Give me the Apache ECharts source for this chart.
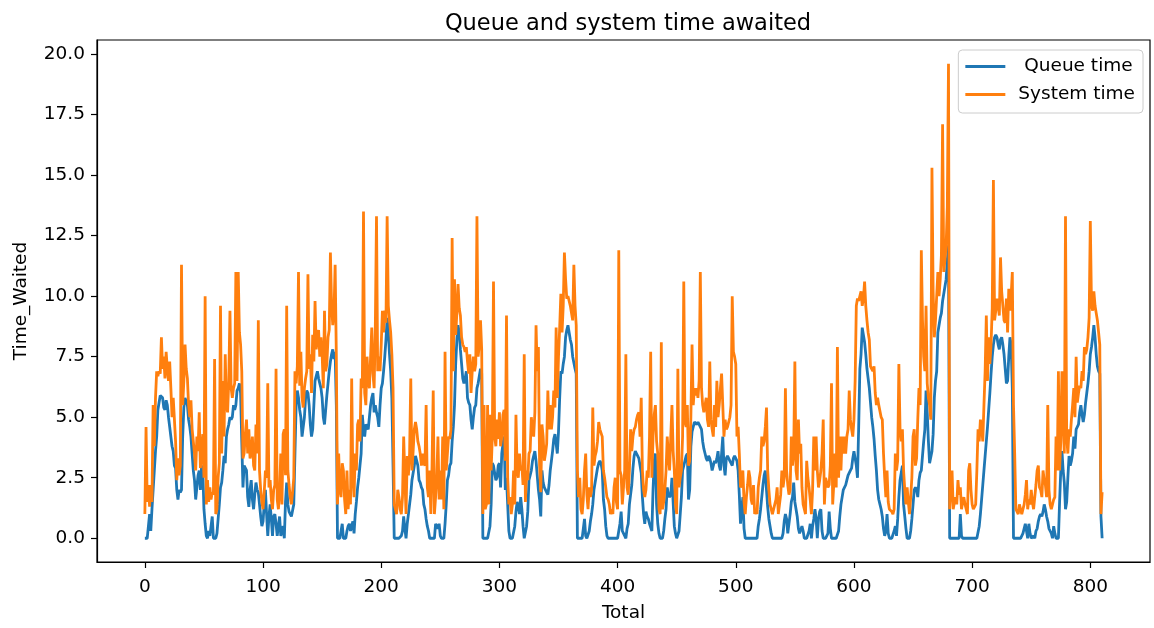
<!DOCTYPE html>
<html>
<head>
<meta charset="utf-8">
<script src="https://cdn.jsdelivr.net/npm/echarts@6/dist/echarts.min.js"></script>
<style>
html,body{margin:0;padding:0;background:#fff;}
#chart{width:1154px;height:628px;}
</style>
</head>
<body>
<div id="chart"></div>
<script>
const titleText = 'Queue and system time awaited';
const seriesNames = [' Queue time', 'System time'];
const xTicks = [0, 100, 200, 300, 400, 500, 600, 700, 800];
const yTicks = [0, 2.5, 5, 7.5, 10, 12.5, 15, 17.5, 20];

const queueTime = [
0,0,0,0,1.0,0.3,1.2,2.0,2.8,3.6,
4.2,5.3,5.6,5.9,5.9,5.8,5.4,5.3,5.7,5.5,
5.0,4.6,4.2,3.8,3.6,3.0,2.9,2.0,1.6,2.0,
1.9,2.0,4.2,5.4,5.8,5.8,5.5,4.9,4.6,4.2,
3.5,2.8,2.4,1.6,2.1,2.6,2.8,2.0,3.0,2.8,
1.2,0.6,0.1,0,0.3,0.1,0.5,0.9,0,0,
0,0.2,0.8,1.4,2.1,2.3,2.8,3.4,3.1,4.2,
4.5,4.7,5.0,4.9,5.0,5.5,5.3,5.5,6.1,6.2,
6.4,6.0,4.0,2.1,3.0,3.0,2.8,1.7,1.3,2.0,
2.4,1.6,1.2,1.8,2.3,2.0,1.9,1.4,0.9,0.5,
0.7,1.4,2.0,1.0,0.1,0.9,1.4,0.8,0.1,0.9,
1.0,0.6,0.1,0.5,0.9,0.1,0.3,0.5,0,1.5,
2.3,1.4,1.1,1.0,0.9,0.9,1.4,3.5,5.5,6.1,
5.8,5.3,5.0,4.2,4.6,5.0,5.8,6.1,6.0,5.5,
4.7,4.2,4.5,5.5,6.5,6.7,6.9,6.6,6.4,6.2,
5.8,5.0,4.7,5.3,5.9,6.4,6.9,7.3,7.6,7.8,
7.4,7.7,5.5,0,0,0,0,0.6,0,0,
0,0.3,0.5,0.6,0.3,0.5,0.7,0.2,1.0,1.5,
2.1,2.5,3.0,3.5,5.1,4.5,4.2,4.7,4.6,4.5,
5.0,5.5,5.8,6.0,5.2,5.5,5.2,5.0,4.6,5.5,
6.2,6.4,6.9,7.5,8.2,9.1,8.5,7.6,6.9,5.8,
3.0,0,0,0,0,0,0,0.1,0.3,0.9,
0.4,0,0.6,1.0,1.4,1.8,2.4,2.7,3.0,3.4,
3.4,3.0,2.4,2.3,2.1,2.0,1.4,1.2,0.8,0.5,
0.3,0,0,0,0,0,0.6,0.5,0.4,0.6,
0.1,0,0,0,0.6,1.4,2.4,2.6,3.0,3.1,
4.0,4.6,5.5,7.2,8.2,8.8,8.5,7.8,7.2,6.6,
6.4,6.6,6.9,5.8,5.6,5.5,4.9,4.5,5.0,5.4,
5.5,6.2,6.4,6.7,7.0,6.8,0,0,0,0,
0,0,0.5,1.4,3.1,3.0,2.7,2.4,2.5,3.0,
3.1,2.1,3.5,3.9,4.2,2.0,2.5,1.4,0.3,0,
0,0,0,0.5,1.1,1.5,1.3,1.0,1.7,1.2,
0.5,0,0,0.5,1.1,2.4,2.6,2.8,3.2,3.4,
3.6,3.2,2.6,2.0,1.6,0.9,2.8,2.3,2.1,2.0,
1.9,1.8,2.2,2.8,3.2,3.6,4.1,4.3,3.9,3.5,
4.4,5.8,6.9,6.8,7.2,7.5,8.3,8.6,8.8,8.5,
8.2,8.0,7.5,7.5,7.0,6.8,0,0,0,0,
0,0.4,0.8,0.1,0,0,0.3,0.7,1.0,1.4,
2.0,2.3,2.6,2.9,3.1,3.2,3.1,2.8,1.6,1.2,
0.5,0.1,0,0,0,0,0,0,0,0,
0,0,0.6,1.1,0.3,0.2,0.1,0,0.4,0.6,
1.4,1.8,2.2,2.9,3.4,3.6,3.5,3.4,3.3,3.0,
2.7,1.7,1.0,0.6,1.1,0.9,0.8,0.6,0.6,0.3,
2.0,3.2,3.5,1.4,0.6,0.2,0,0,0,0.3,
0.8,1.2,2.1,1.8,1.7,1.8,2.5,1.5,0.5,0.2,
0,0,0.3,1.0,1.7,2.8,3.0,3.2,3.4,3.5,
1.6,2.0,3.8,4.4,4.6,4.8,4.8,4.7,4.8,4.7,
4.6,4.5,4.0,3.7,3.5,3.3,3.2,3.4,3.3,3.1,
2.8,3.0,3.2,3.1,3.3,3.6,3.0,2.8,3.5,4.2,
3.0,2.6,3.3,3.4,3.3,3.2,3.1,3.0,3.3,3.4,
3.3,3.2,2.8,1.8,0.6,1.2,1.7,0.4,0,0,
0,0,0,0,0,0,0,0,0,0.5,
0.8,1.2,1.7,2.2,2.6,2.8,2.0,1.3,0.8,0.5,
0.2,0,0,0,0,0,0,0,0,0,
0.2,0.7,1.0,0.8,0.2,0.2,1.0,1.5,1.7,2.3,
1.5,1.2,0.9,0.4,0.2,0.2,0.5,0.3,0,0,
0,0,0.3,0.6,0,0.5,0.8,1.2,0.8,0,
0.8,1.1,1.2,0.3,0,0,0,0,0.2,1.1,
0.4,0,0,0,0,0,0,0.3,0.9,1.4,
1.7,2.0,2.1,2.2,2.4,2.6,2.7,2.8,2.9,3.3,
3.6,3.6,3.0,2.5,4.6,7.0,7.6,8.7,8.4,8.1,
7.6,7.0,6.6,6.2,5.6,5.0,4.6,4.1,3.4,2.8,
2.0,1.6,1.4,1.2,0.9,0.4,0.1,0.3,1.0,0.2,
0,0,0,0,0.3,0.5,0.1,0.8,1.7,2.4,
2.7,3.0,1.4,0.9,0.4,0,0,0,0.3,0.8,
1.4,2.0,2.1,2.0,1.7,2.4,2.7,2.8,3.4,4.0,
4.5,6.1,5.2,4.0,3.1,3.1,3.6,4.3,5.8,6.5,
6.9,8.5,8.8,9.1,9.3,9.8,10.1,10.4,10.7,11.5,
12.1,0,0,0,0,0,0,0,0,0,
1.0,0.1,0,0,0,0,0,0,0,0,
0,0,0,0,0,0,0.5,1.0,1.6,2.2,
2.8,3.4,4.0,4.6,5.3,6.0,6.8,7.5,8.0,8.3,
8.4,8.3,8.0,7.8,8.2,8.3,8.0,7.6,7.0,6.4,
6.5,7.5,8.3,8.0,6.2,0,0,0,0,0,
0,0,0,0.2,0.4,0.6,0.3,0,0.6,0.2,
0,0,0.1,0,0.3,0.4,0.7,0.9,1.0,0.9,
1.1,1.4,1.2,0.9,0.7,0.4,0.3,0.2,0,0.5,
0.2,0,0,0,1.5,2.8,3.6,2.8,2.3,1.2,
1.5,2.5,3.4,3.0,3.2,3.5,4.2,3.7,4.5,4.6,
4.7,5.2,5.5,5.1,4.8,5.1,5.6,6.0,6.4,6.9,
7.6,7.9,8.3,8.8,8.3,7.6,7.1,6.9,6.8,0.9,
0
];

const systemTime = [
1.0,4.6,1.5,2.2,1.3,2.2,1.5,5.5,3.8,5.8,
6.9,6.7,6.9,6.8,8.3,7.0,7.5,6.6,7.7,7.0,
6.5,7.3,6.2,5.0,5.8,5.8,4.0,2.4,3.3,2.6,
3.0,11.3,5.5,6.5,8.0,7.0,6.6,5.5,5.0,5.7,
4.5,4.0,3.5,2.8,4.2,3.6,5.2,2.9,3.5,4.3,
2.5,10.0,1.4,2.4,1.5,2.1,1.6,1.9,1.8,7.4,
1.0,1.2,2.5,3.1,9.6,3.5,6.5,4.2,7.6,5.5,
5.2,6.5,9.4,6.2,5.8,6.2,6.4,11.0,6.5,11.0,
8.5,8.0,6.9,3.3,3.5,4.3,4.9,3.5,4.5,3.3,
3.5,4.2,3.0,2.8,4.7,3.5,9.0,2.8,2.0,1.5,
1.2,1.9,2.8,2.5,6.4,2.1,2.4,1.6,1.2,2.0,
2.2,7.0,1.6,1.2,1.9,3.5,1.4,4.3,4.5,2.6,
9.6,2.8,2.2,1.7,1.4,1.9,2.5,6.9,6.4,7.1,
11.0,6.3,7.7,5.8,5.4,6.2,6.6,6.9,10.9,7.0,
7.6,6.0,8.4,7.3,9.8,7.8,8.3,8.6,7.5,8.3,
7.6,6.2,9.4,6.9,7.2,8.3,8.6,11.8,9.6,8.8,
9.3,11.3,7.6,1.4,3.5,2.0,1.7,3.1,2.8,1.6,
1.0,2.8,1.2,2.0,1.4,6.6,2.5,1.7,3.5,2.8,
4.7,4.9,4.0,6.6,6.2,13.5,6.0,5.5,7.5,6.5,
6.2,7.5,8.7,6.8,6.2,8.7,13.3,6.9,7.5,6.9,
8.0,9.4,8.5,9.4,8.9,13.3,9.6,9.0,8.5,7.6,
6.2,1.4,1.2,1.0,2.0,1.7,1.2,1.0,1.7,4.2,
2.5,1.0,3.4,2.6,3.5,6.6,2.8,3.6,4.5,4.8,
4.5,4.0,3.8,3.5,3.0,3.5,3.1,3.0,5.5,2.1,
1.7,2.8,1.0,3.0,6.1,1.0,1.7,2.5,4.2,1.6,
2.8,1.6,4.2,1.2,7.7,2.8,3.5,4.2,4.1,4.5,
12.4,6.9,10.7,8.4,9.3,10.5,9.5,9.2,8.3,8.0,
7.9,7.7,7.9,7.3,6.8,7.6,6.0,6.9,7.5,6.9,
7.2,13.3,7.5,8.0,9.0,7.8,1.0,5.5,1.2,1.4,
5.5,1.4,5.1,2.8,4.2,10.6,4.2,3.8,4.9,4.1,
5.2,3.8,4.2,5.1,5.3,3.2,9.2,2.5,1.4,1.7,
1.0,1.4,2.8,1.4,5.1,2.8,2.5,3.5,2.8,3.0,
2.2,7.6,1.5,2.8,2.4,3.5,3.6,5.0,4.5,4.2,
5.2,8.8,6.9,7.9,3.0,1.9,4.7,4.2,3.2,3.5,
3.9,6.1,4.5,5.5,4.5,5.0,6.1,5.4,8.7,5.8,
7.5,8.7,10.1,8.5,9.6,11.8,10.7,9.9,10.0,9.8,
9.6,9.3,9.0,11.3,9.6,8.8,2.8,1.7,2.5,1.2,
1.0,1.6,2.8,3.5,1.8,1.2,2.1,1.7,2.0,5.4,
3.0,3.4,3.6,4.0,4.8,4.5,4.5,4.2,2.8,2.5,
2.1,1.7,1.6,1.4,1.0,1.2,1.0,2.1,2.5,1.5,
1.2,11.9,2.8,2.6,1.4,2.1,2.8,7.6,2.1,1.8,
2.8,4.5,3.6,4.2,4.5,4.6,4.9,5.1,5.2,4.2,
5.8,2.8,2.0,1.7,2.0,2.8,2.5,4.2,7.7,2.5,
4.2,5.1,5.5,4.0,3.5,1.2,1.0,8.1,1.2,1.5,
2.0,2.8,4.2,3.4,2.8,4.2,5.5,3.6,2.8,1.4,
1.0,7.0,2.1,2.5,2.8,4.2,10.6,4.8,4.6,5.5,
3.0,3.2,5.0,8.0,5.5,6.2,5.9,6.2,5.8,6.5,
11.0,6.2,5.5,5.2,5.5,5.8,4.9,4.6,7.3,4.9,
4.5,4.2,5.5,4.6,6.5,5.0,5.5,6.2,6.8,5.5,
4.2,4.9,4.5,4.6,4.6,5.0,5.5,10.0,7.7,7.5,
7.2,4.2,4.6,3.5,2.1,2.2,2.8,1.5,1.0,1.7,
2.2,2.8,2.5,1.6,1.4,2.2,1.0,1.2,1.0,2.1,
2.5,2.8,4.2,3.8,4.0,4.6,5.4,2.8,2.0,1.4,
1.2,1.0,1.0,1.4,1.6,2.1,1.0,1.4,1.8,2.8,
2.1,2.5,6.2,2.8,2.2,1.8,2.0,4.2,3.0,3.5,
7.3,2.8,2.4,4.9,3.5,3.9,2.1,1.4,1.2,1.0,
3.2,2.5,2.1,1.6,1.0,2.0,4.2,2.8,4.2,2.8,
2.1,2.4,2.8,3.5,4.9,1.4,2.5,2.5,2.1,2.2,
3.0,6.4,1.4,2.3,3.5,2.1,7.9,2.5,4.2,2.8,
4.2,3.5,4.2,3.5,4.2,4.5,6.1,4.9,4.5,4.2,
4.9,6.5,9.6,9.9,9.8,10.0,10.2,9.6,9.9,10.6,
9.6,9.0,8.5,8.2,7.1,7.0,6.9,7.1,6.0,5.5,
5.8,5.5,5.5,5.0,4.9,3.5,2.5,1.7,2.8,1.5,
1.2,1.2,1.1,1.0,1.2,3.5,2.8,3.2,7.2,4.5,
4.0,4.5,2.8,2.0,1.4,2.1,1.5,1.0,1.7,2.5,
4.2,4.5,3.0,3.3,4.9,6.2,5.5,11.9,9.0,7.5,
6.9,9.6,6.4,5.8,5.5,4.9,15.3,10.2,8.3,9.0,
10.0,11.0,10.0,10.7,11.7,17.1,11.0,11.5,12.1,13.7,
19.6,1.2,2.0,2.8,1.2,1.5,1.7,1.4,2.4,1.8,
2.1,1.2,1.5,1.7,1.4,1.2,1.0,2.8,3.1,2.0,
1.4,1.2,1.3,1.4,2.8,4.5,4.0,4.9,4.6,4.0,
5.5,6.9,9.2,6.5,8.3,7.2,8.0,9.5,14.8,9.0,
9.4,9.9,9.6,9.2,11.6,10.2,9.6,9.0,8.9,9.9,
8.5,10.3,9.4,10.0,11.0,5.5,3.5,1.2,1.1,1.0,
1.4,1.2,1.0,1.2,1.4,1.8,2.4,1.2,1.6,1.4,
2.0,1.5,1.2,1.7,2.2,2.8,3.0,2.1,2.0,1.7,
2.8,2.4,2.2,1.7,5.5,2.0,1.4,1.2,1.4,1.6,
1.7,4.2,2.8,6.9,2.8,4.0,6.9,4.9,3.5,13.3,
4.2,3.5,4.5,4.2,4.9,5.5,6.2,5.0,7.5,5.6,
6.0,6.3,6.2,6.9,6.5,7.9,7.6,7.8,8.3,9.1,
13.1,9.6,9.4,10.2,9.6,9.3,9.0,8.5,8.0,1.0,
1.9
];

const FONT = 'DejaVu Sans';
const toPairs = arr => arr.map((v, i) => [i, v]);
const n = queueTime.length;
const xPad = (n - 1) * 0.05;
const yMaxData = Math.max(...systemTime);
const yPad = yMaxData * 0.05;

const chart = echarts.init(document.getElementById('chart'), null, {renderer: 'canvas'});
chart.setOption({
  animation: false,
  backgroundColor: '#ffffff',
  title: {
    text: titleText,
    left: 623,
    top: 8,
    textAlign: 'center',
    textStyle: {fontFamily: FONT, fontSize: 22.5, fontWeight: 'normal', color: '#000'}
  },
  legend: {
    orient: 'vertical',
    right: 11,
    top: 50,
    icon: 'rect',
    itemWidth: 40,
    itemHeight: 2.8,
    itemGap: 9,
    padding: [7, 8, 9, 7],
    borderColor: '#cccccc',
    borderWidth: 1,
    borderRadius: 4,
    backgroundColor: 'rgba(255,255,255,0.8)',
    textStyle: {fontFamily: FONT, fontSize: 18.5, color: '#000', lineHeight: 19, padding: [0, 0, 0, 8]},
    data: seriesNames
  },
  grid: {
    left: 97, right: 4, top: 40, bottom: 63,
    show: true, borderColor: '#000', borderWidth: 1.2, backgroundColor: 'transparent'
  },
  xAxis: {
    type: 'value',
    min: -xPad,
    max: (n - 1) + xPad,
    name: 'Total',
    nameLocation: 'middle',
    nameGap: 42,
    nameTextStyle: {fontFamily: FONT, fontSize: 18.5, color: '#000'},
    axisLine: {show: true, onZero: false, lineStyle: {color: '#000', width: 1.2}},
    axisTick: {show: true, length: 6, customValues: xTicks, lineStyle: {color: '#000', width: 1.2}},
    axisLabel: {customValues: xTicks, margin: 16, fontFamily: FONT, fontSize: 18.5, color: '#000',
      formatter: v => String(v)},
    splitLine: {show: false}
  },
  yAxis: {
    type: 'value',
    min: -yPad,
    max: yMaxData + yPad,
    name: 'Time_Waited',
    nameLocation: 'middle',
    nameRotate: 90,
    nameGap: 66,
    nameTextStyle: {fontFamily: FONT, fontSize: 18.5, color: '#000'},
    axisLine: {show: true, onZero: false, lineStyle: {color: '#000', width: 1.2}},
    axisTick: {show: true, length: 6, customValues: yTicks, lineStyle: {color: '#000', width: 1.2}},
    axisLabel: {customValues: yTicks, margin: 12, fontFamily: FONT, fontSize: 18.5, color: '#000',
      formatter: v => Number(v).toFixed(1)},
    splitLine: {show: false}
  },
  series: [
    {
      name: seriesNames[0], type: 'line', data: toPairs(queueTime),
      showSymbol: false, symbol: 'none', color: '#1f77b4',
      lineStyle: {color: '#1f77b4', width: 2.8}, z: 2
    },
    {
      name: seriesNames[1], type: 'line', data: toPairs(systemTime),
      showSymbol: false, symbol: 'none', color: '#ff7f0e',
      lineStyle: {color: '#ff7f0e', width: 2.8}, z: 3
    }
  ]
});
</script>
</body>
</html>
